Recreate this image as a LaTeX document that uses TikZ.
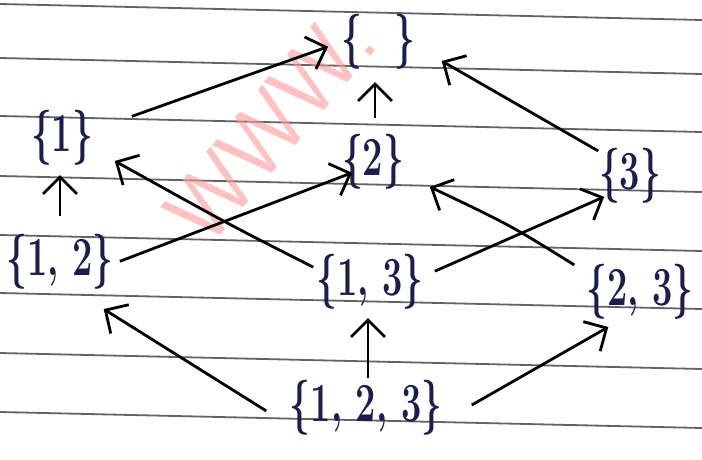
\documentclass[tikz,border=0pt]{standalone}
\usepackage{fontspec}
\usepackage{graphicx}
\usetikzlibrary{arrows.meta}
\definecolor{ink}{HTML}{1A1D4E}
\definecolor{rule}{HTML}{3C3C3C}
\tikzset{
  setnode/.style={text=ink, inner sep=1pt, font=\fontsize{38}{40}\selectfont\bfseries},
  hasse/.style={line width=2.8pt, black, -{Straight Barb[length=17pt,width=34pt,line width=2.8pt]}, shorten <=2pt, shorten >=2pt},
  paperline/.style={rule, line width=1.8pt, opacity=0.8}
}
\newcommand{\tallset}[1]{\scalebox{0.95}[1.45]{#1}}
\begin{document}
\begin{tikzpicture}[x=1pt,y=-1pt]
  \useasboundingbox (0,0) rectangle (702,459);
  \fill[white] (0,0) rectangle (702,459);
  % ruled paper
  \foreach \y in {4,58,116,176,235,293,353,412} {
    \draw[paperline] (0,\y) -- (702,\y+16);
  }
  % faint watermark
  \node[text=red!40, opacity=0.6, rotate=50, anchor=base west, inner sep=0pt, font=\sffamily\fontsize{92}{92}\selectfont] (wm) at (208,250) {WWW.};

  % lattice of subsets
  \node[setnode] (e)   at (378,42)  {\tallset{\{\hspace{0.9em}\}}};
  \node[setnode] (s1)  at (62,138)  {\tallset{\{1\}}};
  \node[setnode] (s2)  at (373,162) {\tallset{\{2\}}};
  \node[setnode] (s3)  at (630,176) {\tallset{\{3\}}};
  \node[setnode] (s12) at (60,262)  {\tallset{\{1, 2\}}};
  \node[setnode] (s13) at (370,282) {\tallset{\{1, 3\}}};
  \node[setnode] (s23) at (640,292) {\tallset{\{2, 3\}}};
  \node[setnode] (s123) at (366,408) {\tallset{\{1, 2, 3\}}};

  % covering relations, drawn from the larger set to the smaller one
  \coordinate (a1) at (130,117); \coordinate (b1) at (330,46);
  \draw[hasse] (a1) -- (b1);
  \coordinate (a2) at (375,120); \coordinate (b2) at (375,80);
  \draw[hasse] (a2) -- (b2);
  \coordinate (a3) at (600,152); \coordinate (b3) at (440,60);
  \draw[hasse] (a3) -- (b3);
  \coordinate (a4) at (60,218); \coordinate (b4) at (60,173);
  \draw[hasse] (a4) -- (b4);
  \coordinate (a5) at (315,268); \coordinate (b5) at (113,160);
  \draw[hasse] (a5) .. controls (230,225) .. (b5);
  \coordinate (a6) at (118,262); \coordinate (b6) at (354,172);
  \draw[hasse] (a6) -- (b6);
  \coordinate (a7) at (433,272); \coordinate (b7) at (606,196);
  \draw[hasse] (a7) -- (b7);
  \coordinate (a8) at (576,266); \coordinate (b8) at (428,186);
  \draw[hasse] (a8) .. controls (510,225) .. (b8);
  \coordinate (a9) at (268,412); \coordinate (b9) at (102,308);
  \draw[hasse] (a9) -- (b9);
  \coordinate (a10) at (368,380); \coordinate (b10) at (368,316);
  \draw[hasse] (a10) -- (b10);
  \coordinate (a11) at (470,406); \coordinate (b11) at (610,326);
  \draw[hasse] (a11) -- (b11);
\end{tikzpicture}
\end{document}
